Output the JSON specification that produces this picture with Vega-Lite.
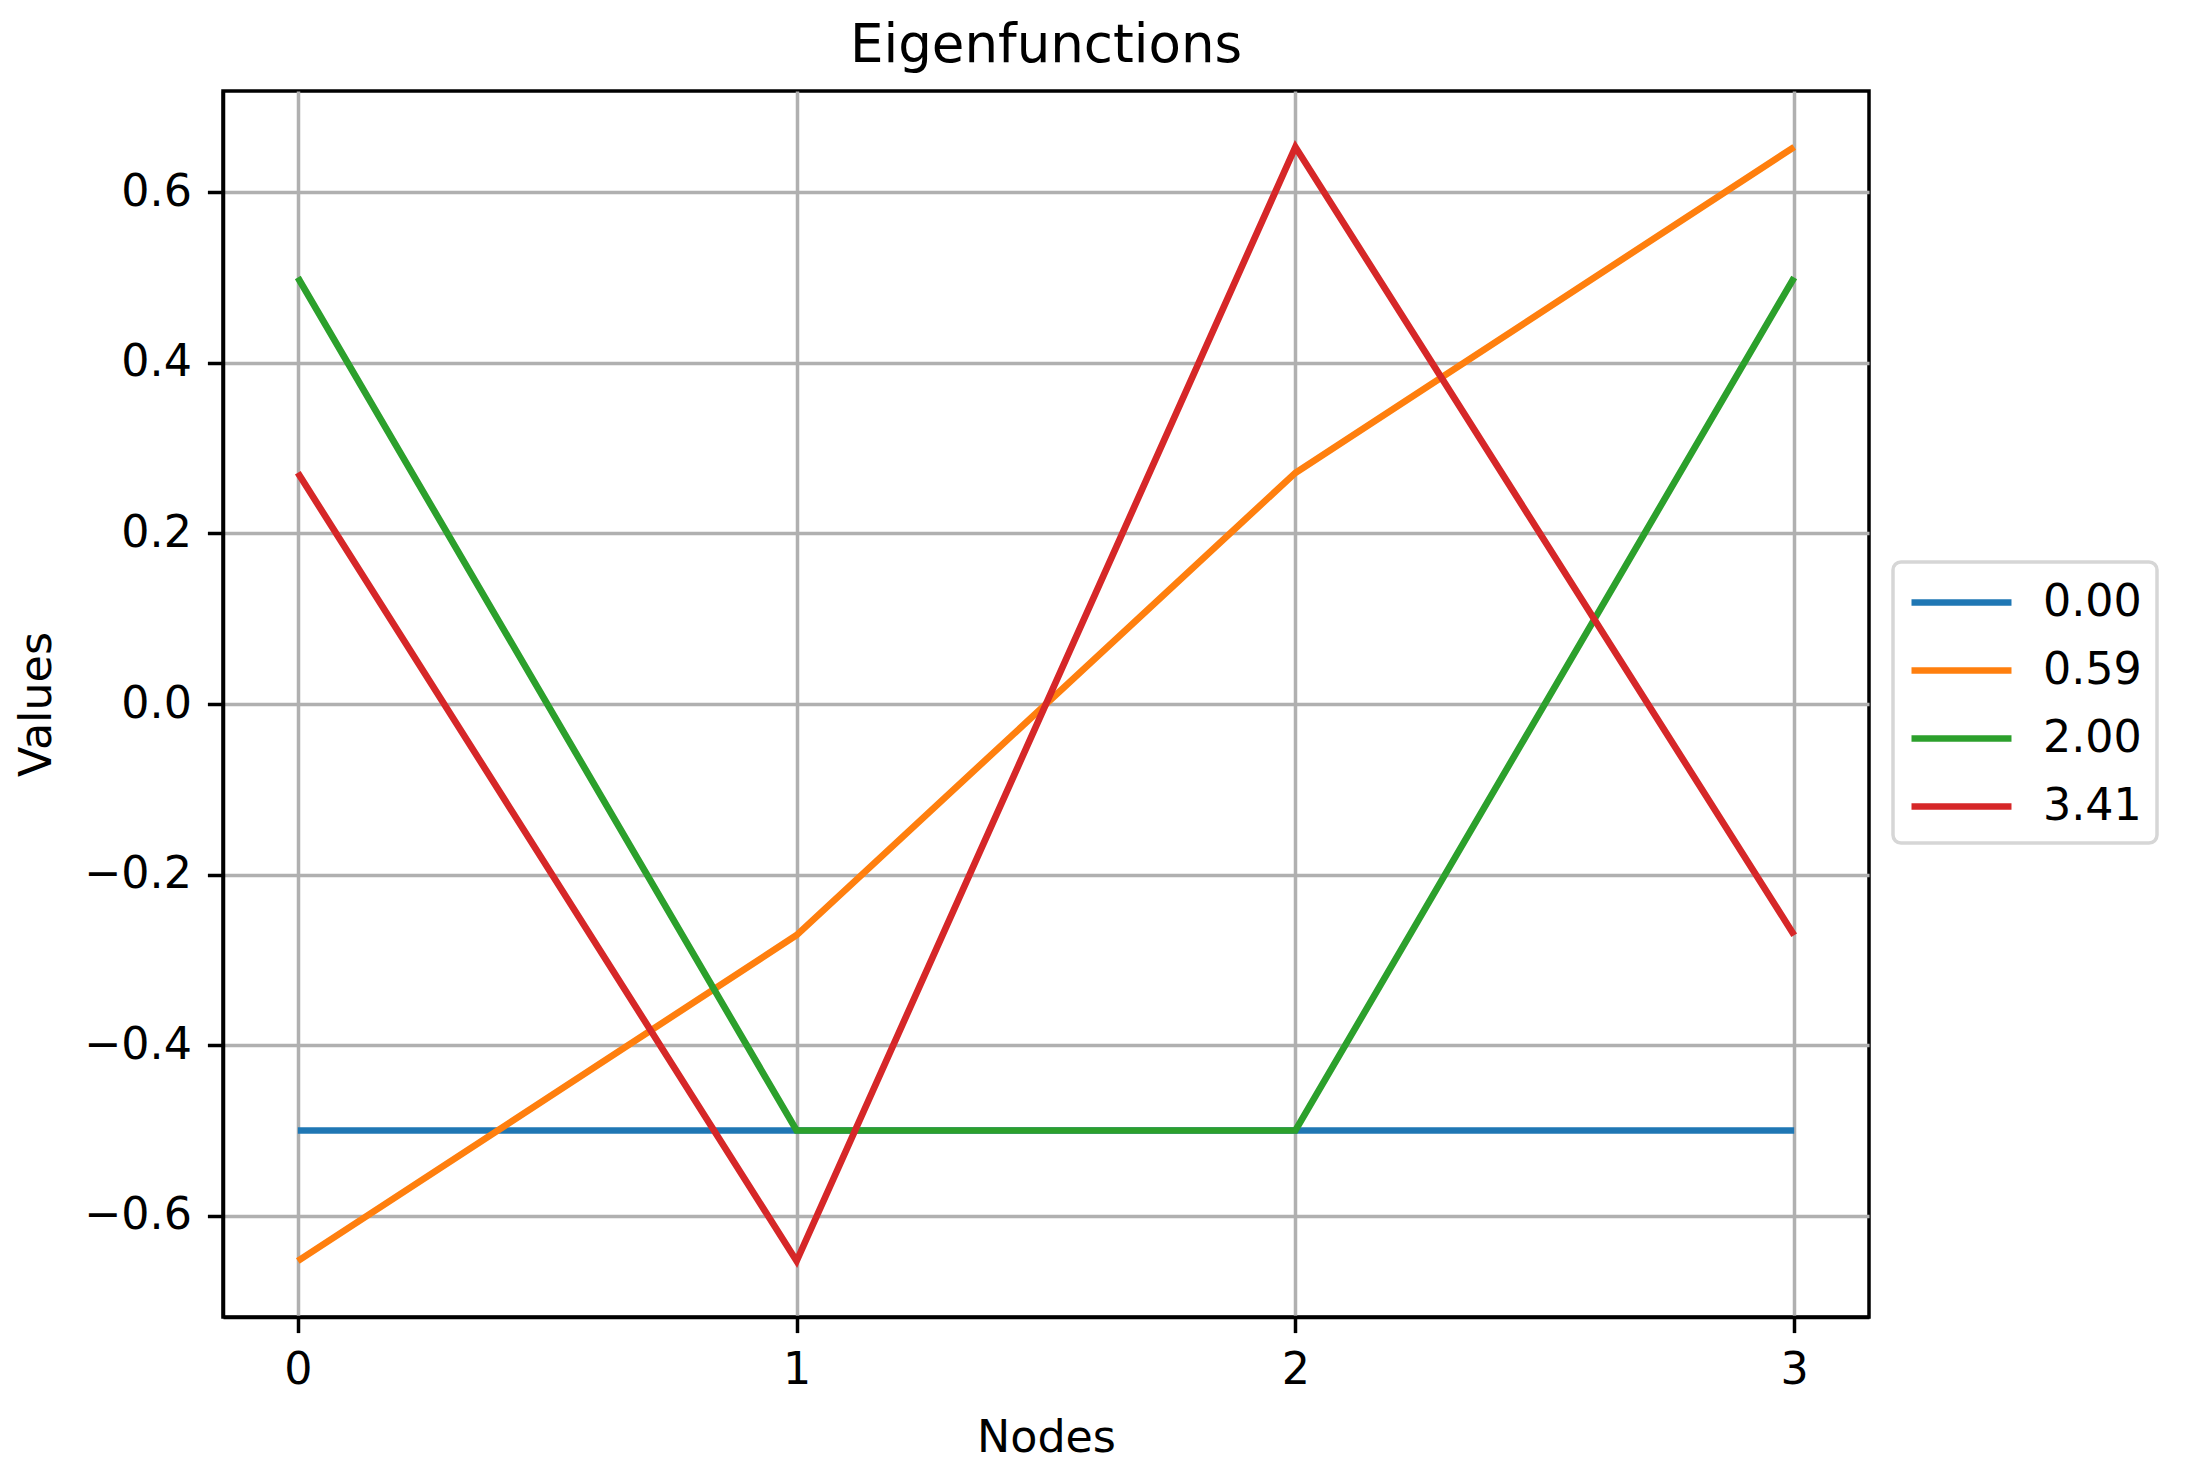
{
  "$schema": "https://vega.github.io/schema/vega-lite/v6.json",
  "autosize": {"type": "none"},
  "padding": {"left": 223, "top": 91, "right": 318, "bottom": 158},
  "width": 1646,
  "height": 1226,
  "background": "white",
  "title": {
    "text": "Eigenfunctions",
    "font": "DejaVu Sans",
    "fontSize": 53,
    "fontWeight": "normal",
    "color": "black",
    "offset": 18
  },
  "data": {
    "values": [
      {"node": 0, "value": -0.5, "eig": "0.00"},
      {"node": 1, "value": -0.5, "eig": "0.00"},
      {"node": 2, "value": -0.5, "eig": "0.00"},
      {"node": 3, "value": -0.5, "eig": "0.00"},
      {"node": 0, "value": -0.653, "eig": "0.59"},
      {"node": 1, "value": -0.271, "eig": "0.59"},
      {"node": 2, "value": 0.271, "eig": "0.59"},
      {"node": 3, "value": 0.653, "eig": "0.59"},
      {"node": 0, "value": 0.5, "eig": "2.00"},
      {"node": 1, "value": -0.5, "eig": "2.00"},
      {"node": 2, "value": -0.5, "eig": "2.00"},
      {"node": 3, "value": 0.5, "eig": "2.00"},
      {"node": 0, "value": 0.271, "eig": "3.41"},
      {"node": 1, "value": -0.653, "eig": "3.41"},
      {"node": 2, "value": 0.653, "eig": "3.41"},
      {"node": 3, "value": -0.271, "eig": "3.41"}
    ]
  },
  "mark": {"type": "line", "strokeWidth": 6.7},
  "encoding": {
    "x": {
      "field": "node",
      "type": "quantitative",
      "title": "Nodes",
      "scale": {"domain": [-0.15, 3.15], "nice": false, "zero": false},
      "axis": {"values": [0, 1, 2, 3], "format": "d", "titlePadding": 24}
    },
    "y": {
      "field": "value",
      "type": "quantitative",
      "title": "Values",
      "scale": {"domain": [-0.7186, 0.7186], "nice": false, "zero": false},
      "axis": {"values": [-0.6, -0.4, -0.2, 0, 0.2, 0.4, 0.6], "format": ".1f", "titlePadding": 24}
    },
    "color": {
      "field": "eig",
      "type": "nominal",
      "scale": {"domain": ["0.00", "0.59", "2.00", "3.41"], "range": ["#1f77b4", "#ff7f0e", "#2ca02c", "#d62728"]},
      "legend": {
        "title": null,
        "orient": "none",
        "legendX": 1670,
        "legendY": 471,
        "symbolType": "M-1,0H3.545",
        "symbolStrokeWidth": 6.7,
        "symbolSize": 1936,
        "labelOffset": 84,
        "rowPadding": 21,
        "padding": 15,
        "strokeColor": "#d6d6d6",
        "cornerRadius": 8,
        "fillColor": "white"
      }
    }
  },
  "config": {
    "font": "DejaVu Sans",
    "view": {"stroke": "black", "strokeWidth": 3.5},
    "axis": {
      "labelFont": "DejaVu Sans",
      "labelFontSize": 44.4,
      "labelColor": "black",
      "titleFont": "DejaVu Sans",
      "titleFontSize": 44.4,
      "titleFontWeight": "normal",
      "titleColor": "black",
      "domainColor": "black",
      "domainWidth": 3.5,
      "tickColor": "black",
      "tickWidth": 3.5,
      "tickSize": 15.6,
      "labelPadding": 16,
      "grid": true,
      "gridColor": "#b0b0b0",
      "gridWidth": 3.5
    },
    "legend": {
      "labelFont": "DejaVu Sans",
      "labelFontSize": 44.4,
      "labelColor": "black",
      "strokeWidth": 3.5
    }
  }
}
